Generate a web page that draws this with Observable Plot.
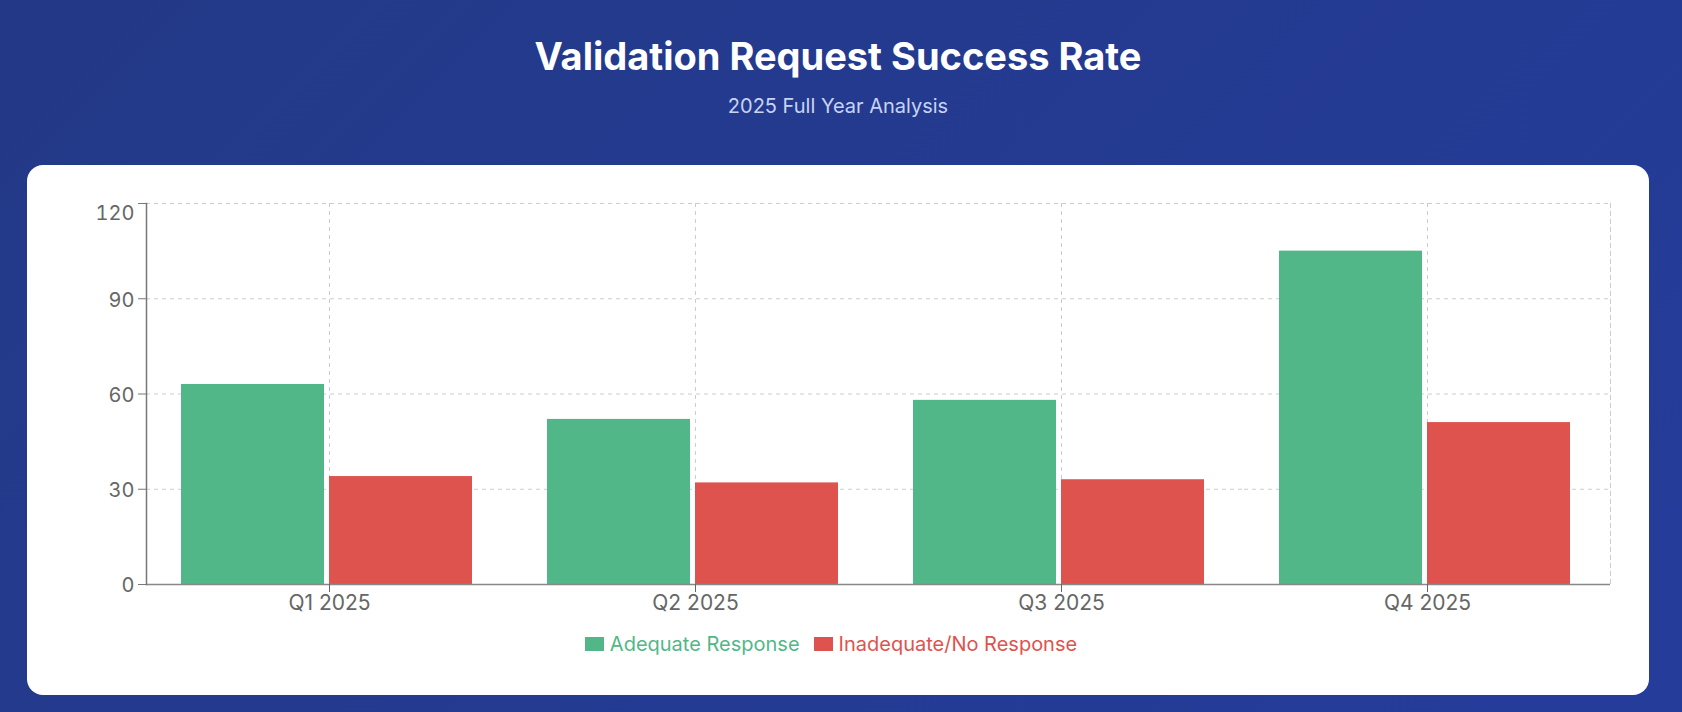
<!DOCTYPE html>
<html>
<head>
<meta charset="utf-8">
<script src="https://cdn.jsdelivr.net/npm/d3@7"></script>
<script src="https://cdn.jsdelivr.net/npm/@observablehq/plot@0.6"></script>
<style>
  html, body { margin: 0; padding: 0; }
  body {
    width: 1682px; height: 712px; overflow: hidden; position: relative;
    background: linear-gradient(135deg, #233987 0%, #253c9b 100%);
    font-family: Inter, "Noto Sans", sans-serif;
  }
  #title { position: absolute; left: 27px; width: 1622px; top: 37px; text-align: center;
    color: #fff; font-weight: 700; font-size: 38px; line-height: 38px; }
  #subtitle { position: absolute; left: 27px; width: 1622px; top: 96px; text-align: center;
    color: #c9d3f4; font-size: 20px; line-height: 20px; }
  #card { position: absolute; left: 27px; top: 165px; width: 1622px; height: 530px;
    background: #fff; border-radius: 16px; }
  #chart { position: absolute; left: 27px; top: 165px; }
  #legend { position: absolute; left: 0; width: 1662px; top: 633px; display: flex;
    justify-content: center; align-items: center; font-size: 20px; line-height: 22px; }
  .item { display: flex; align-items: center; margin: 0 7px; }
  .sw { width: 19px; height: 14px; margin-right: 6px; }
</style>
</head>
<body>
<div id="title">Validation Request Success Rate</div>
<div id="subtitle">2025 Full Year Analysis</div>
<div id="card"></div>
<div id="chart"></div>
<div id="legend"></div>
<script>
const quarters = ["Q1 2025", "Q2 2025", "Q3 2025", "Q4 2025"];
const adequate = [63, 52, 58, 105];
const inadequate = [34, 32, 33, 51];
const seriesNames = ["Adequate Response", "Inadequate/No Response"];
const seriesColors = ["#52b788", "#de534e"];
const yTicks = [0, 30, 60, 90, 120];

const data = quarters.flatMap((q, i) => [
  {quarter: q, series: seriesNames[0], value: adequate[i]},
  {quarter: q, series: seriesNames[1], value: inadequate[i]}
]);

const grid = {stroke: "#cccccc", strokeOpacity: 1, strokeDasharray: "4,4"};

const chart = Plot.plot({
  width: 1622,
  height: 460,
  marginLeft: 119,
  marginRight: 39,
  marginTop: 38,
  marginBottom: 41,
  style: {fontFamily: "Inter, 'Noto Sans', sans-serif", fontSize: "20px", background: "transparent", color: "#666"},
  fx: {domain: quarters, padding: 0, label: null, axis: null},
  x: {domain: seriesNames, paddingInner: 0.035, paddingOuter: 0.25, align: 0.47, axis: null},
  y: {domain: [0, 120], label: null, axis: null},
  color: {domain: seriesNames, range: seriesColors},
  marks: [
    Plot.gridY({ticks: yTicks.slice(1), ...grid}),
    Plot.gridFx({...grid}),
    Plot.frame({anchor: "right", facet: "super", ...grid}),
    Plot.barY(data, {fx: "quarter", x: "series", y: "value", fill: "series"}),
    Plot.ruleY([0], {stroke: "#888", strokeWidth: 1.5}),
    Plot.frame({anchor: "left", facet: "super", stroke: "#777", strokeWidth: 1.5}),
    Plot.axisY({ticks: yTicks, tickSize: 8, stroke: "#777", fill: "none", label: null}),
    Plot.axisY({ticks: yTicks.slice(0, -1), tickSize: 0, tickPadding: 12, fill: "#666", dy: 1.5, label: null}),
    Plot.axisY({ticks: yTicks.slice(-1), tickSize: 0, tickPadding: 12, fill: "#666", dy: 10, label: null}),
    Plot.axisFx({anchor: "bottom", tickSize: 8, label: null, color: "#666", fontSize: 21})
  ]
});
document.getElementById("chart").appendChild(chart);

const legend = document.getElementById("legend");
seriesNames.forEach((name, i) => {
  const item = document.createElement("div");
  item.className = "item";
  const sw = document.createElement("div");
  sw.className = "sw";
  sw.style.background = seriesColors[i];
  const label = document.createElement("span");
  label.textContent = name;
  label.style.color = seriesColors[i];
  item.appendChild(sw);
  item.appendChild(label);
  legend.appendChild(item);
});
</script>
</body>
</html>
